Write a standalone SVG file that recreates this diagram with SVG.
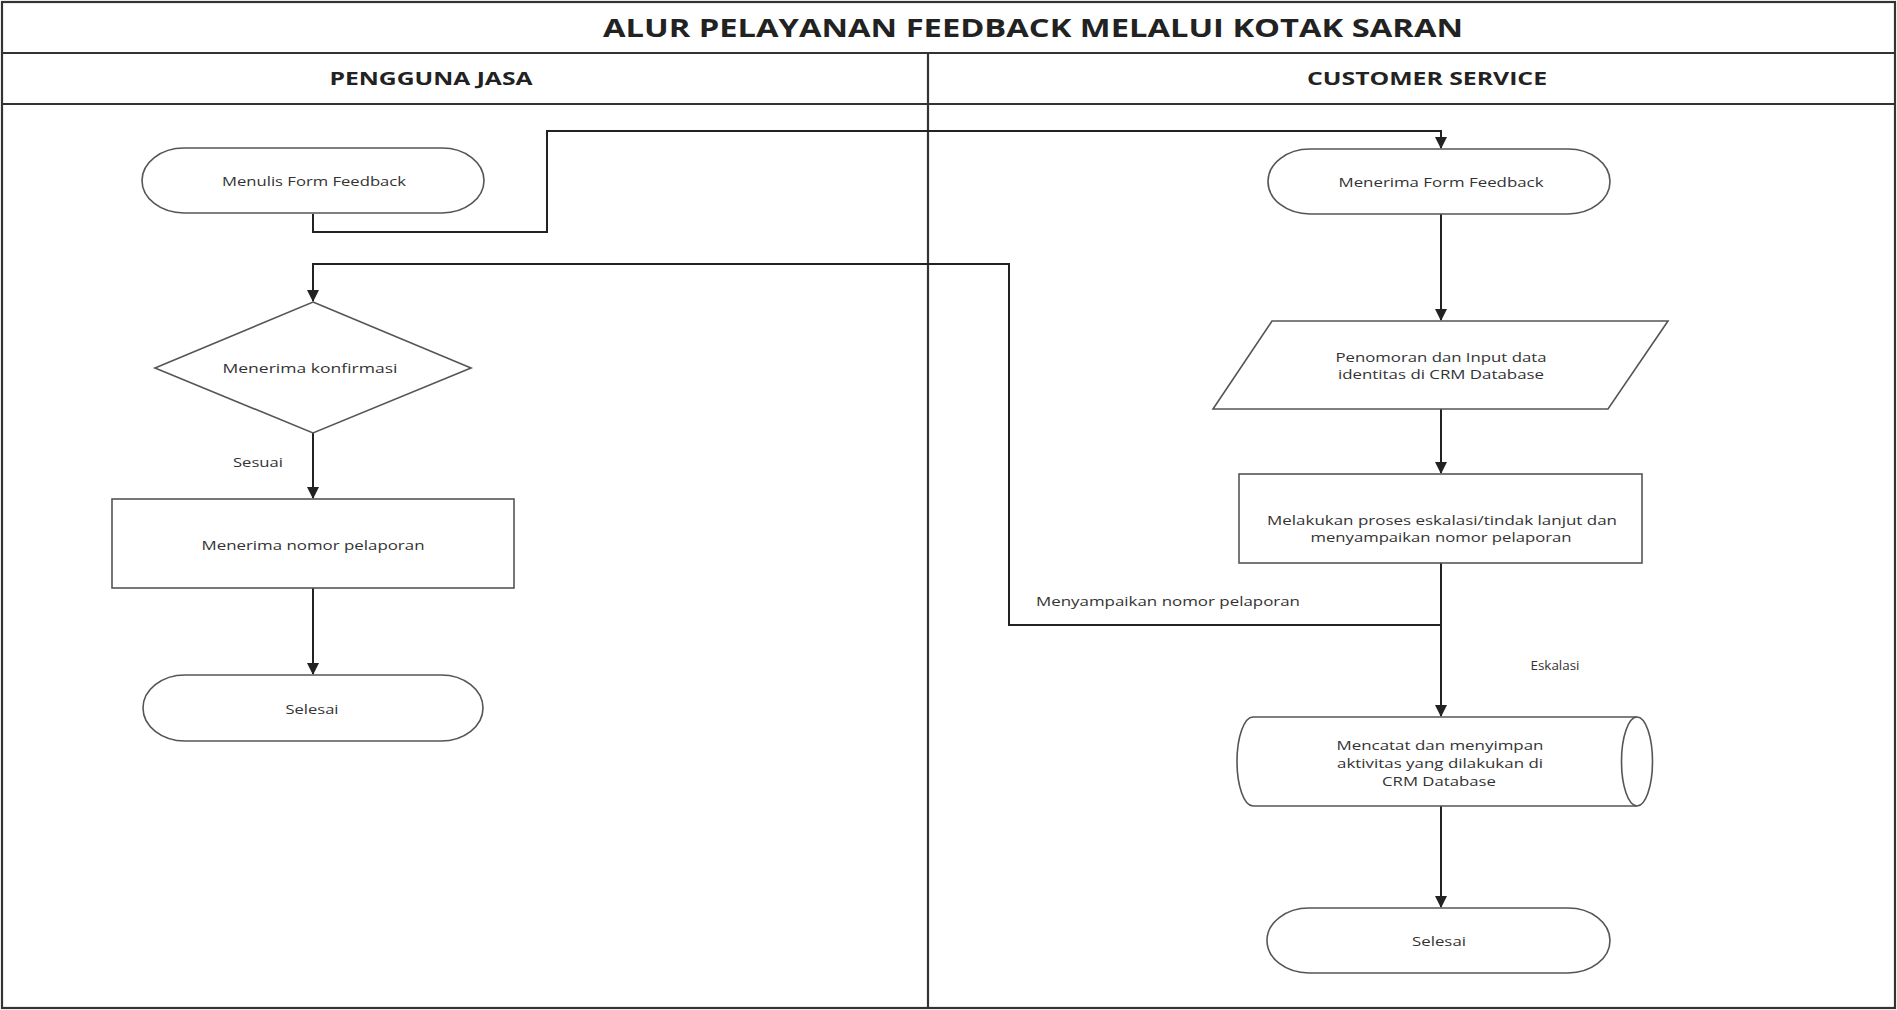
<svg xmlns="http://www.w3.org/2000/svg" width="1897" height="1010" viewBox="0 0 1897 1010">
  <style>
    .frame { fill: none; stroke: #333; stroke-width: 2.2; }
    .shape { fill: #fff; stroke: #555; stroke-width: 1.6; }
    .conn { fill: none; stroke: #222; stroke-width: 2; }
    .title { font-family: "Open Sans", "Liberation Sans", sans-serif; font-weight: 700; fill: #222; }
    .lbl { font-family: "Open Sans", "Liberation Sans", sans-serif; font-size: 13px; fill: #333; }
  </style>
  <defs>
    <marker id="arrow" viewBox="0 0 12 12" refX="11" refY="6" markerWidth="12" markerHeight="12" markerUnits="userSpaceOnUse" orient="auto">
      <path d="M0,0 L12,6 L0,12 Z" fill="#222"/>
    </marker>
  </defs>

  <rect width="1897" height="1010" fill="#fff"/>

  <!-- swimlane frame -->
  <g id="frame">
    <rect class="frame" x="2" y="2" width="1893" height="1006"/>
    <line class="frame" x1="2" y1="53" x2="1895" y2="53"/>
    <line class="frame" x1="2" y1="104" x2="1895" y2="104"/>
    <line class="frame" x1="928" y1="53" x2="928" y2="1008"/>
    <text class="title" x="1033" y="37" font-size="25" text-anchor="middle" textLength="860" lengthAdjust="spacingAndGlyphs">ALUR PELAYANAN FEEDBACK MELALUI KOTAK SARAN</text>
    <text class="title" x="431" y="85" font-size="18" text-anchor="middle" textLength="203" lengthAdjust="spacingAndGlyphs">PENGGUNA JASA</text>
    <text class="title" x="1427" y="85" font-size="18" text-anchor="middle" textLength="240" lengthAdjust="spacingAndGlyphs">CUSTOMER SERVICE</text>
  </g>

  <!-- connectors -->
  <g id="connectors">
    <path class="conn" d="M313,214 V232 H547 V131 H1441 V148" marker-end="url(#arrow)"/>
    <path class="conn" d="M1441,214 V320" marker-end="url(#arrow)"/>
    <path class="conn" d="M1441,409 V473" marker-end="url(#arrow)"/>
    <path class="conn" d="M1441,563 V716" marker-end="url(#arrow)"/>
    <path class="conn" d="M1441,625 H1009 V264 H313 V301" marker-end="url(#arrow)"/>
    <path class="conn" d="M313,433 V498" marker-end="url(#arrow)"/>
    <path class="conn" d="M313,588 V674" marker-end="url(#arrow)"/>
    <path class="conn" d="M1441,806 V907" marker-end="url(#arrow)"/>
    <text class="lbl" x="258" y="462" text-anchor="middle" dominant-baseline="central" textLength="50" lengthAdjust="spacingAndGlyphs">Sesuai</text>
    <text class="lbl" x="1036" y="601" dominant-baseline="central" textLength="264" lengthAdjust="spacingAndGlyphs">Menyampaikan nomor pelaporan</text>
    <text class="lbl" x="1555" y="665" text-anchor="middle" dominant-baseline="central" textLength="49" lengthAdjust="spacingAndGlyphs">Eskalasi</text>
  </g>

  <!-- Pengguna Jasa lane -->
  <g id="menulis-form">
    <rect class="shape" x="142" y="148" width="342" height="65" rx="42" ry="32.5"/>
    <text class="lbl" x="314" y="181" text-anchor="middle" dominant-baseline="central" textLength="184" lengthAdjust="spacingAndGlyphs">Menulis Form Feedback</text>
  </g>

  <g id="menerima-konfirmasi">
    <polygon class="shape" points="313,302 471,368 313,433 155,368"/>
    <text class="lbl" x="310" y="368" text-anchor="middle" dominant-baseline="central" textLength="175" lengthAdjust="spacingAndGlyphs">Menerima konfirmasi</text>
  </g>

  <g id="menerima-nomor">
    <rect class="shape" x="112" y="499" width="402" height="89"/>
    <text class="lbl" x="313" y="545" text-anchor="middle" dominant-baseline="central" textLength="223" lengthAdjust="spacingAndGlyphs">Menerima nomor pelaporan</text>
  </g>

  <g id="selesai-pengguna">
    <rect class="shape" x="143" y="675" width="340" height="66" rx="42" ry="33"/>
    <text class="lbl" x="312" y="709" text-anchor="middle" dominant-baseline="central" textLength="53" lengthAdjust="spacingAndGlyphs">Selesai</text>
  </g>

  <!-- Customer Service lane -->
  <g id="menerima-form">
    <rect class="shape" x="1268" y="149" width="342" height="65" rx="42" ry="32.5"/>
    <text class="lbl" x="1441" y="182" text-anchor="middle" dominant-baseline="central" textLength="205" lengthAdjust="spacingAndGlyphs">Menerima Form Feedback</text>
  </g>

  <g id="penomoran">
    <polygon class="shape" points="1272,321 1668,321 1608,409 1213,409"/>
    <text class="lbl" x="1441" y="357" text-anchor="middle" dominant-baseline="central" textLength="211" lengthAdjust="spacingAndGlyphs">Penomoran dan Input data</text>
    <text class="lbl" x="1441" y="374" text-anchor="middle" dominant-baseline="central" textLength="206" lengthAdjust="spacingAndGlyphs">identitas di CRM Database</text>
  </g>

  <g id="proses-eskalasi">
    <rect class="shape" x="1239" y="474" width="403" height="89"/>
    <text class="lbl" x="1442" y="520" text-anchor="middle" dominant-baseline="central" textLength="350" lengthAdjust="spacingAndGlyphs">Melakukan proses eskalasi/tindak lanjut dan</text>
    <text class="lbl" x="1441" y="537" text-anchor="middle" dominant-baseline="central" textLength="261" lengthAdjust="spacingAndGlyphs">menyampaikan nomor pelaporan</text>
  </g>

  <g id="crm-database">
    <path class="shape" d="M1253,717 H1637 A15.5,44.5 0 0 1 1637,806 H1253 A16,44.5 0 0 1 1253,717 Z"/>
    <path class="shape" fill="none" d="M1637,717 A15.5,44.5 0 0 0 1637,806"/>
    <text class="lbl" x="1440" y="745" text-anchor="middle" dominant-baseline="central" textLength="207" lengthAdjust="spacingAndGlyphs">Mencatat dan menyimpan</text>
    <text class="lbl" x="1440" y="763" text-anchor="middle" dominant-baseline="central" textLength="206" lengthAdjust="spacingAndGlyphs">aktivitas yang dilakukan di</text>
    <text class="lbl" x="1439" y="781" text-anchor="middle" dominant-baseline="central" textLength="114" lengthAdjust="spacingAndGlyphs">CRM Database</text>
  </g>

  <g id="selesai-cs">
    <rect class="shape" x="1267" y="908" width="343" height="65" rx="42" ry="32.5"/>
    <text class="lbl" x="1439" y="941" text-anchor="middle" dominant-baseline="central" textLength="54" lengthAdjust="spacingAndGlyphs">Selesai</text>
  </g>
</svg>
